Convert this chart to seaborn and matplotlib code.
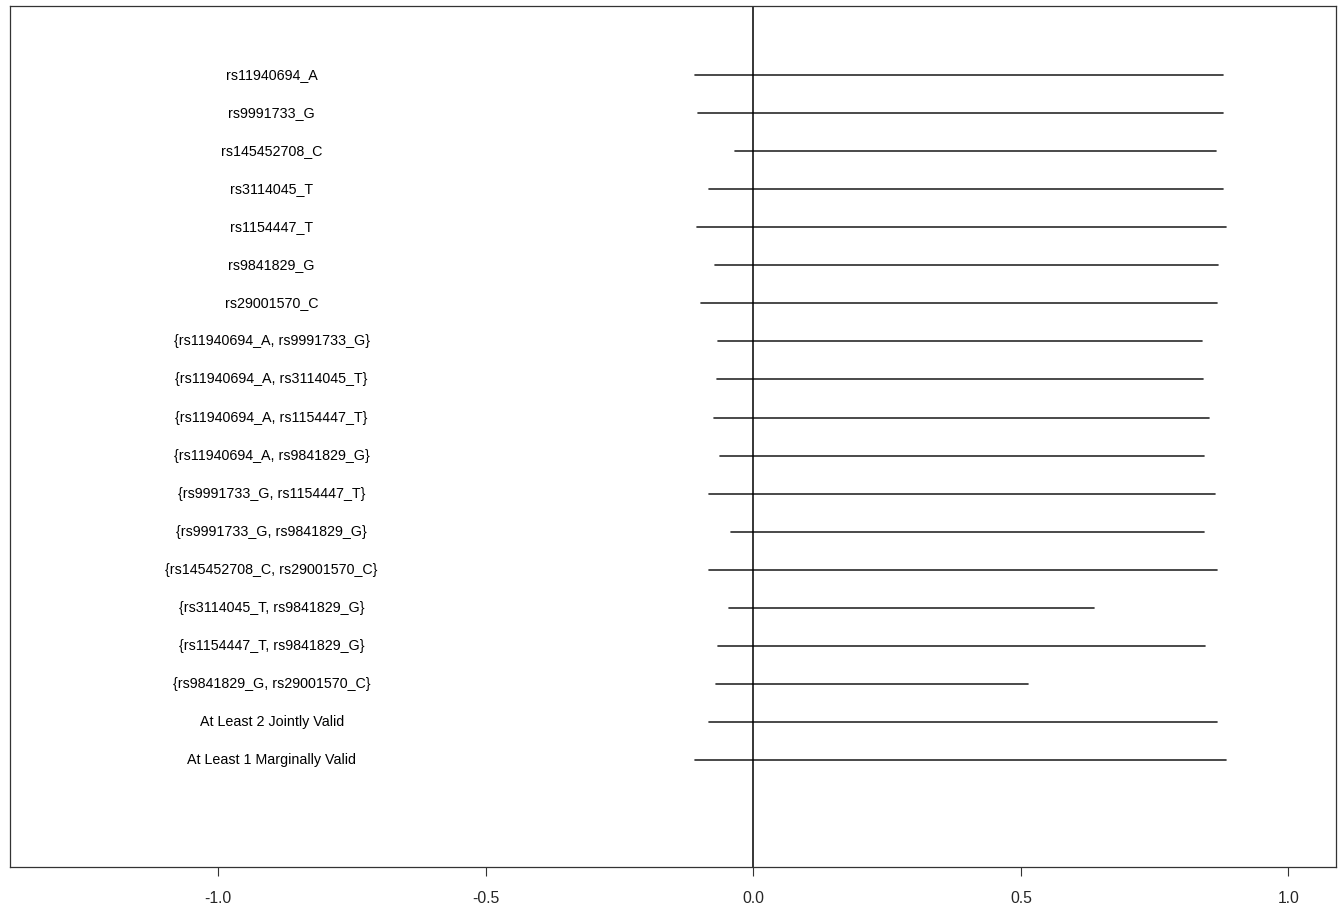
import matplotlib
matplotlib.use("Agg")
import matplotlib.pyplot as plt
import seaborn as sns
import pandas as pd
import numpy as np

labels = [
    "rs11940694_A", "rs9991733_G", "rs145452708_C", "rs3114045_T", "rs1154447_T",
    "rs9841829_G", "rs29001570_C",
    "{rs11940694_A, rs9991733_G}", "{rs11940694_A, rs3114045_T}",
    "{rs11940694_A, rs1154447_T}", "{rs11940694_A, rs9841829_G}",
    "{rs9991733_G, rs1154447_T}", "{rs9991733_G, rs9841829_G}",
    "{rs145452708_C, rs29001570_C}", "{rs3114045_T, rs9841829_G}",
    "{rs1154447_T, rs9841829_G}", "{rs9841829_G, rs29001570_C}",
    "At Least 2 Jointly Valid", "At Least 1 Marginally Valid",
]
lower = [-0.109, -0.104, -0.034, -0.082, -0.105, -0.071, -0.098, -0.066, -0.068,
         -0.073, -0.062, -0.083, -0.042, -0.083, -0.045, -0.066, -0.069, -0.083, -0.109]
upper = [0.878, 0.877, 0.865, 0.877, 0.884, 0.869, 0.866, 0.839, 0.840,
         0.851, 0.843, 0.862, 0.842, 0.866, 0.636, 0.844, 0.514, 0.866, 0.884]
xticks = [-1.0, -0.5, 0.0, 0.5, 1.0]

rows = list(range(len(labels)))
df = pd.DataFrame({
    "label": labels * 2,
    "row": rows * 2,
    "value": lower + upper,
})

sns.set_style("white")
plt.rcParams['font.family'] = ['Liberation Sans', 'DejaVu Sans']

fig = plt.figure(figsize=(13.38, 9.07), dpi=100)
ax = fig.add_axes([10 / 1338, 40 / 907, 1326 / 1338, 861 / 907])

sns.lineplot(data=df, x="value", y="row", units="label", estimator=None,
             orient="y", color="#2a2a2a", linewidth=1.2, legend=False, ax=ax)

ax.axvline(0, color="black", linewidth=1.1)

for r, lab in zip(rows, labels):
    ax.text(-0.9, r, lab, ha="center", va="center", fontsize=10.3, color="black")

ax.set_xlim(-1.389, 1.089)
ax.set_ylim(20.81, -1.813)
ax.set_xticks(xticks)
ax.set_xticklabels([f"{t:.1f}" for t in xticks], fontsize=11.3)
ax.set_yticks([])
ax.set_xlabel("")
ax.set_ylabel("")
ax.tick_params(axis="x", direction="out", length=6.5, width=0.8, color="#333333",
               pad=11, bottom=True)
for s in ax.spines.values():
    s.set_color("#333333")
    s.set_linewidth(0.9)
    s.set_visible(True)

fig.savefig("out.png", dpi=100)
